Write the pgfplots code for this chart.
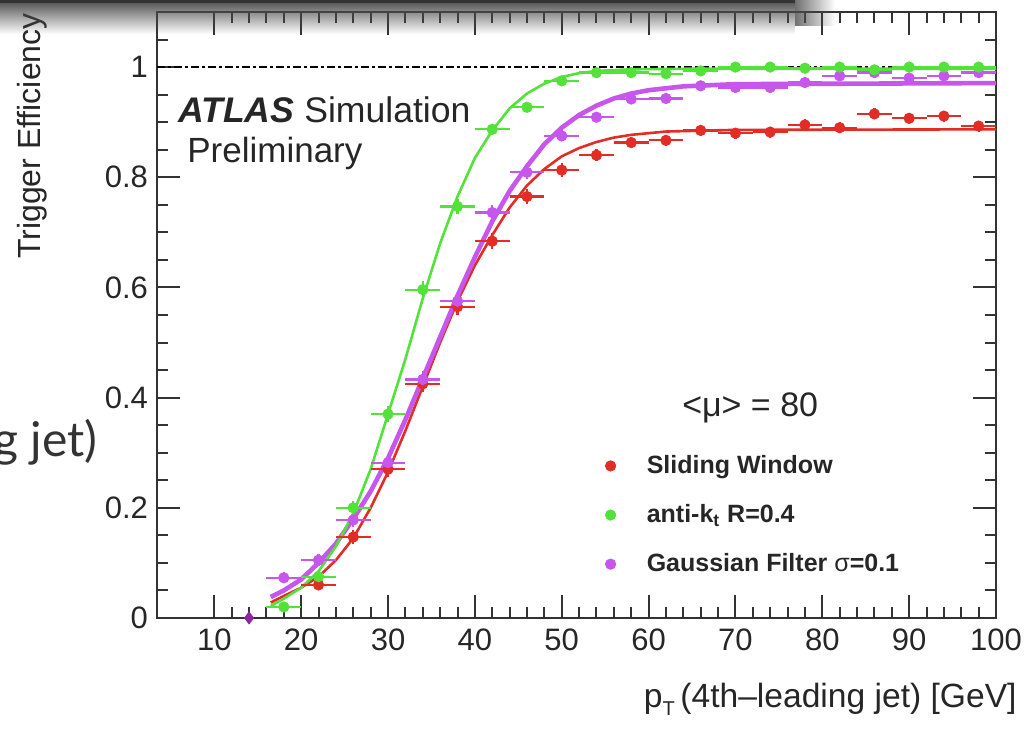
\documentclass[border=0pt]{standalone}
\usepackage{pgfplots}
\usepackage{pgfplotstable}
\pgfplotsset{compat=1.18}
\usepackage{fontspec}
\setmainfont{Liberation Sans}
\newfontfamily\lato{Lato}
\usetikzlibrary{fadings}
\definecolor{rred}{RGB}{226,44,38}
\definecolor{rgreen}{RGB}{82,226,58}
\definecolor{rmag}{RGB}{198,86,236}
\definecolor{rpurp}{RGB}{140,40,160}
\tikzfading[name=fadedown, top color=transparent!0, bottom color=transparent!100]
\tikzfading[name=fadecorner, left color=transparent!20, right color=transparent!100]

\pgfplotstableread{
x y ex ey
22 0.060 2 0.010
26 0.147 2 0.012
30 0.270 2 0.014
34 0.425 2 0.015
38 0.565 2 0.015
42 0.684 2 0.014
46 0.765 2 0.013
50 0.813 2 0.012
54 0.840 2 0.011
58 0.863 2 0.010
62 0.867 2 0.010
66 0.885 2 0.010
70 0.880 2 0.010
74 0.882 2 0.010
78 0.895 2 0.010
82 0.890 2 0.010
86 0.915 2 0.010
90 0.907 2 0.010
94 0.911 2 0.010
98 0.893 2 0.010
}\redpts

\pgfplotstableread{
x y ex ey
18 0.020 2 0.006
22 0.075 2 0.010
26 0.200 2 0.013
30 0.370 2 0.015
34 0.596 2 0.015
38 0.747 2 0.013
42 0.887 2 0.010
46 0.927 2 0.008
50 0.975 2 0.006
54 0.990 2 0.005
58 0.990 2 0.005
62 0.988 2 0.005
66 0.993 2 0.005
70 1.000 2 0.004
74 1.000 2 0.004
78 0.998 2 0.004
82 1.000 2 0.004
86 0.995 2 0.004
90 1.000 2 0.004
94 1.000 2 0.004
98 1.000 2 0.004
}\greenpts

\pgfplotstableread{
x y ex ey
18 0.073 2 0.010
22 0.105 2 0.011
26 0.178 2 0.013
30 0.282 2 0.014
34 0.433 2 0.015
38 0.575 2 0.015
42 0.736 2 0.013
46 0.809 2 0.012
50 0.875 2 0.010
54 0.909 2 0.009
58 0.942 2 0.008
62 0.943 2 0.008
66 0.966 2 0.007
70 0.963 2 0.007
74 0.963 2 0.007
78 0.972 2 0.006
82 0.984 2 0.006
86 0.990 2 0.005
90 0.980 2 0.005
94 0.984 2 0.005
98 0.990 2 0.005
}\magpts

\begin{document}
\begin{tikzpicture}
\useasboundingbox (0,0) rectangle (514.5pt,366pt);
\begin{axis}[
  at={(78.5pt,57pt)}, anchor=south west,
  scale only axis, width=419.5pt, height=303pt,
  xmin=3.4, xmax=100, ymin=0, ymax=1.1,
  xtick={10,20,...,100}, minor x tick num=4,
  ytick={0,0.2,0.4,0.6,0.8,1}, yticklabels={0,0.2,0.4,0.6,0.8,1},
  minor ytick={0.05,0.1,0.15,0.25,0.3,0.35,0.45,0.5,0.55,0.65,0.7,0.75,0.85,0.9,0.95,1.05},
  tick align=inside, major tick length=11.5pt, minor tick length=5.5pt,
  xtick pos=both, ytick pos=both,
  xticklabel pos=left, yticklabel pos=left,
  axis line style={line width=1pt, black!80},
  every tick/.style={line width=1pt, black!80},
  ticklabel style={font=\fontsize{15.5}{18}\selectfont, text=black!85},
  /pgf/number format/assume math mode=true,
  xticklabel style={yshift=-2pt},
  yticklabel style={xshift=-1pt},
  clip=false,
  legend style={at={(axis cs:54.98,0.305)}, anchor=north west, draw=none, fill=none,
    font=\bfseries\fontsize{12.5}{14}\selectfont, row sep=9pt, inner sep=0pt,
    nodes={inner sep=2.5pt, text=black!85},
    /tikz/every odd column/.append style={column sep=13pt}},
  legend cell align=left,
]
% reference line
\addplot[black, line width=1.2pt, dash pattern=on 4pt off 1.5pt on 1.5pt off 1.5pt, forget plot] coordinates {(3.4,1) (100,1)};
% fits
\addplot[rred, line width=1.3pt, forget plot] coordinates {
(16.5,0.028) (18,0.040) (20,0.055) (22,0.075) (24,0.105) (26,0.145) (28,0.200) (30,0.265)
(32,0.340) (34,0.420) (36,0.500) (38,0.575) (40,0.640) (42,0.695) (44,0.745) (46,0.785)
(48,0.815) (50,0.838) (52,0.853) (54,0.864) (56,0.872) (58,0.877) (62,0.883) (70,0.886) (100,0.887)};
\addplot[rmag, line width=2.3pt, forget plot] coordinates {
(16.5,0.038) (18,0.050) (20,0.070) (22,0.100) (24,0.135) (26,0.180) (28,0.230) (30,0.290)
(32,0.360) (34,0.435) (36,0.510) (38,0.585) (40,0.655) (42,0.720) (44,0.775) (46,0.820)
(48,0.860) (50,0.890) (52,0.913) (54,0.930) (56,0.943) (58,0.952) (60,0.958) (64,0.965) (70,0.969) (100,0.971)};
\addplot[rgreen, line width=1.3pt, forget plot] coordinates {
(16.5,0.022) (18,0.035) (20,0.055) (22,0.085) (24,0.130) (26,0.190) (28,0.270) (30,0.370)
(32,0.470) (34,0.580) (36,0.680) (38,0.765) (40,0.835) (42,0.885) (44,0.925) (46,0.952)
(48,0.970) (50,0.982) (52,0.989) (54,0.993) (58,0.996) (65,0.997) (100,0.997)};
% points
\addplot[rred, only marks, mark=*, mark size=2.6pt, forget plot,
  error bars/.cd, x dir=both, x explicit, y dir=both, y explicit,
  error mark=none, error bar style={line width=1.1pt}]
  table[x=x, y=y, x error=ex, y error=ey] {\redpts};
\addplot[rmag, only marks, mark=*, mark size=2.6pt, forget plot,
  error bars/.cd, x dir=both, x explicit, y dir=both, y explicit,
  error mark=none, error bar style={line width=1.1pt}]
  table[x=x, y=y, x error=ex, y error=ey] {\magpts};
\addplot[rgreen, only marks, mark=*, mark size=2.6pt, forget plot,
  error bars/.cd, x dir=both, x explicit, y dir=both, y explicit,
  error mark=none, error bar style={line width=1.1pt}]
  table[x=x, y=y, x error=ex, y error=ey] {\greenpts};
\addplot[rpurp, only marks, mark=diamond*, mark size=3pt, forget plot] coordinates {(14,0.0)};
% legend
\addlegendimage{only marks, mark=*, mark size=2.6pt, rred}
\addlegendentry{Sliding Window}
\addlegendimage{only marks, mark=*, mark size=2.6pt, rgreen}
\addlegendentry{anti-k\textsubscript{t} R=0.4}
\addlegendimage{only marks, mark=*, mark size=2.6pt, rmag}
\addlegendentry{Gaussian Filter {\mdseries σ}=0.1}
\node[anchor=base, font=\fontsize{17}{20}\selectfont, text=black!85] at (axis cs:71.7,0.365) {<μ> = 80};
\end{axis}
\begin{scope}[shift={(0pt,366pt)}, x=0.5pt, y=-0.5pt]
  \node[anchor=base west, inner sep=0pt, font=\fontsize{17.8}{20}\selectfont, text=black!85] at (178,123) {\textbf{\textit{ATLAS}} Simulation};
  \node[anchor=base west, inner sep=0pt, font=\fontsize{17.5}{20}\selectfont, text=black!85] at (187,163) {Preliminary};
  \node[anchor=base east, inner sep=0pt, font=\fontsize{16.8}{19}\selectfont, text=black!85] at (1017,708) {p\raisebox{-0.45ex}{\fontsize{10}{12}\selectfont T}\,(4th--leading jet) [GeV]};
  \node[rotate=90, anchor=base east, inner sep=0pt, font=\fontsize{16}{19}\selectfont, text=black!85] at (40,13) {Trigger Efficiency};
  \node[anchor=base east, inner sep=0pt, font=\lato\fontsize{24}{28}\selectfont, text=black!80] at (98,457) {leading jet)};
  \fill[black!70, path fading=fadedown] (-2,0) rectangle (795,34);
  \fill[black!80] (-2,-2) rectangle (795,3);
  \fill[black!70, path fading=fadecorner] (795,-2) rectangle (835,26);
\end{scope}
\end{tikzpicture}
\end{document}
